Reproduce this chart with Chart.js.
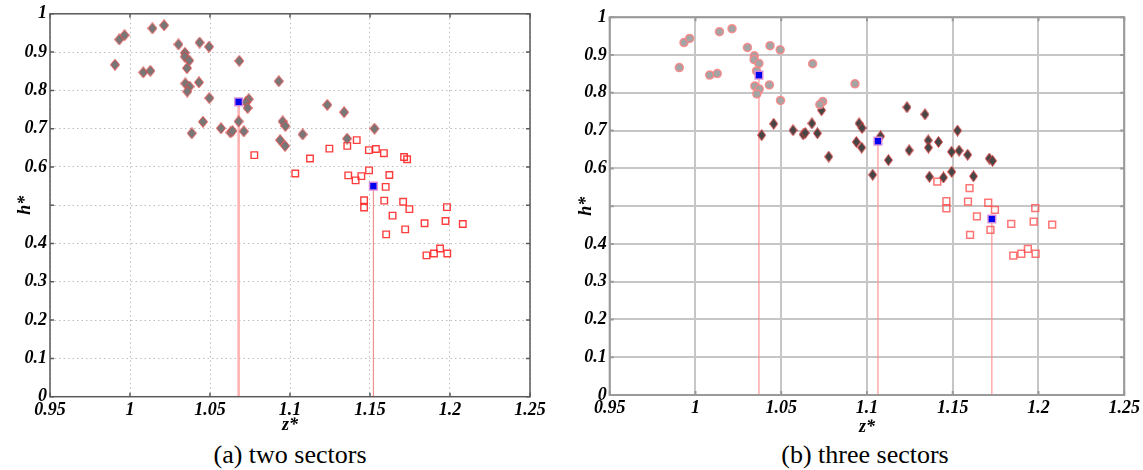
<!DOCTYPE html>
<html>
<head>
<meta charset="utf-8">
<script src="https://cdn.jsdelivr.net/npm/chart.js@4.4.1/dist/chart.umd.min.js"></script>
<style>
  html, body { margin: 0; padding: 0; background: #fff; }
  #page { position: relative; width: 1143px; height: 470px; overflow: hidden; }
  canvas { position: absolute; top: 0; }
  #chartA { left: 0; }
  #chartB { left: 571px; }
  .caption {
    position: absolute; top: 440px; width: 240px; height: 30px; line-height: 30px;
    font-family: "Liberation Serif", "Times New Roman", serif; font-size: 26px;
    text-align: center; color: #000;
  }
</style>
</head>
<body>
<div id="page">
  <canvas id="chartA" width="571" height="440"></canvas>
  <canvas id="chartB" width="572" height="440"></canvas>
  <div class="caption" style="left:170px">(a) two sectors</div>
  <div class="caption" style="left:745px">(b) three sectors</div>
</div>
<script>
// ---- data (same 73 operating points in both panels) ----
const zStar = [
  0.9906, 0.9933, 0.9966, 1.0083, 1.0127, 1.0140, 1.0213, 1.0303, 1.0343, 1.0342,
  1.0370, 1.0356, 1.0435, 1.0494, 1.0346, 1.0372, 1.0358, 1.0431, 1.0496, 1.0683,
  1.0742, 1.0725, 1.0930,
  1.0456, 1.0386, 1.0569, 1.0628, 1.0640, 1.0679, 1.0711, 1.0735, 1.1233, 1.1338,
  1.0954, 1.0971, 1.1079, 1.1528, 1.0938, 1.0969, 1.1357,
  1.0777, 1.1033, 1.1125, 1.1246, 1.1358, 1.1417, 1.1493, 1.1537, 1.1587, 1.1713,
  1.1732, 1.1364, 1.1446, 1.1494, 1.1621,
  1.1410, 1.1598, 1.1463, 1.1463, 1.1589, 1.1707, 1.1746, 1.1981, 1.1641, 1.1841,
  1.1972, 1.2080, 1.1720, 1.1601, 1.1853, 1.1900, 1.1938, 1.1983
];
const hStar = [
  0.867, 0.933, 0.944, 0.847, 0.851, 0.962, 0.970, 0.920, 0.898, 0.888,
  0.878, 0.858, 0.925, 0.914, 0.818, 0.810, 0.797, 0.821, 0.780, 0.877,
  0.777, 0.769, 0.824,
  0.718, 0.688, 0.701, 0.690, 0.694, 0.719, 0.693, 0.754, 0.762, 0.743,
  0.719, 0.707, 0.685, 0.700, 0.670, 0.655, 0.674,
  0.631, 0.583, 0.622, 0.648, 0.655, 0.670, 0.644, 0.647, 0.636, 0.626,
  0.620, 0.578, 0.576, 0.591, 0.579,
  0.565, 0.548, 0.513, 0.494, 0.512, 0.509, 0.490, 0.495, 0.473, 0.453,
  0.459, 0.451, 0.437, 0.424, 0.369, 0.374, 0.387, 0.374
];
// sector of each point: two-sector split and three-sector split
const twoSector = [
  0,0,0,0,0,0,0,0,0,0, 0,0,0,0,0,0,0,0,0,0, 0,0,0,
  0,0,0,0,0,0,0,0,0,0, 0,0,0,0,0,0,0,
  1,1,1,1,1,1,1,1,1,1, 1,1,1,1,1,
  1,1,1,1,1,1,1,1,1,1, 1,1,1,1,1,1,1,1
];
const threeSector = [
  0,0,0,0,0,0,0,0,0,0, 0,0,0,0,0,0,0,0,0,0, 0,0,0,
  1,1,1,1,1,1,1,1,1,1, 1,1,1,1,1,1,1,
  1,1,1,1,1,1,1,1,1,1, 1,1,1,1,1,
  2,2,2,2,2,2,2,2,2,2, 2,2,2,2,2,2,2,2
];
const twoCentreZ = [1.0679, 1.1521];
const twoCentreH = [0.770, 0.550];
const threeCentreZ = [1.0370, 1.1064, 1.1728];
const threeCentreH = [0.847, 0.672, 0.466];
const zTicks = [0.95, 1, 1.05, 1.1, 1.15, 1.2, 1.25];
const hTicks = [0, 0.1, 0.2, 0.3, 0.4, 0.5, 0.6, 0.7, 0.8, 0.9, 1];

function pick(groups, g) {
  const out = [];
  zStar.forEach((z, i) => { if (groups[i] === g) out.push({ x: z, y: hStar[i] }); });
  return out;
}

function centres(cz, ch) {
  return cz.map((z, i) => ({ x: z, y: ch[i] }));
}

// vertical drop line from a centre to h* = 0
function drop(cz, ch, i, color, width) {
  return {
    data: [{ x: cz[i], y: 0 }, { x: cz[i], y: ch[i] }],
    showLine: true, pointRadius: 0, borderColor: color, borderWidth: width
  };
}

// taller-than-wide diamond marker
function diamond(w, h, fill, stroke) {
  const c = document.createElement("canvas");
  c.width = w; c.height = h;
  const g = c.getContext("2d");
  g.beginPath();
  g.moveTo(w / 2, 0.5); g.lineTo(w - 0.5, h / 2); g.lineTo(w / 2, h - 0.5); g.lineTo(0.5, h / 2);
  g.closePath();
  g.fillStyle = fill; g.fill();
  g.strokeStyle = stroke; g.lineWidth = 1; g.stroke();
  return c;
}

// box round the plot with small inward ticks (matlab look)
const frame = {
  id: "frame",
  afterDraw(chart, args, o) {
    const { ctx, chartArea: a, scales: { x, y } } = chart;
    ctx.save();
    ctx.strokeStyle = o.color;
    ctx.lineWidth = o.width;
    ctx.strokeRect(a.left, a.top, a.right - a.left, a.bottom - a.top);
    ctx.beginPath();
    x.ticks.forEach(t => {
      const p = x.getPixelForValue(t.value);
      ctx.moveTo(p, a.top); ctx.lineTo(p, a.top + o.tick);
      ctx.moveTo(p, a.bottom); ctx.lineTo(p, a.bottom - o.tick);
    });
    y.ticks.forEach(t => {
      const p = y.getPixelForValue(t.value);
      ctx.moveTo(a.left, p); ctx.lineTo(a.left + o.tick, p);
      ctx.moveTo(a.right, p); ctx.lineTo(a.right - o.tick, p);
    });
    ctx.stroke();
    ctx.restore();
  }
};

const tickFont = { family: "'Liberation Serif', 'Times New Roman', serif", size: 18, weight: "bold", style: "italic" };

function sectorChart(id, datasets, look) {
  return new Chart(document.getElementById(id), {
    type: "scatter",
    data: { datasets },
    plugins: [frame],
    options: {
      responsive: false,
      animation: false,
      events: [],
      layout: { padding: look.pad },
      plugins: { legend: { display: false }, tooltip: { enabled: false }, frame: look.frame },
      scales: {
        x: {
          type: "linear", min: 0.95, max: 1.25,
          afterBuildTicks: s => { s.ticks = zTicks.map(v => ({ value: v })); },
          afterFit: s => { s.height = look.xHeight; },
          grid: { color: look.grid, lineWidth: look.gridWidth, drawTicks: false },
          border: { display: false, dash: look.dash },
          ticks: {
            font: tickFont, color: "#000", padding: 3, autoSkip: false, maxRotation: 0,
            callback: v => String(+v.toFixed(2))
          },
          title: { display: true, text: "z*", font: tickFont, color: "#000", padding: { top: 0, bottom: look.zPad } }
        },
        y: {
          type: "linear", min: 0, max: 1,
          afterBuildTicks: s => { s.ticks = hTicks.map(v => ({ value: v })); },
          afterFit: s => { s.width = look.yWidth; },
          grid: { color: look.grid, lineWidth: look.gridWidth, drawTicks: false },
          border: { display: false, dash: look.dash },
          ticks: {
            font: tickFont, color: "#000", padding: 3, autoSkip: false,
            // the 0.5 label sits under the h* title in the original
            callback: v => (Math.round(v * 10) === 5 ? "" : String(+v.toFixed(1)))
          },
          title: { display: true, text: "h*", font: tickFont, color: "#000", padding: { top: look.hPad, bottom: 0 } }
        }
      }
    }
  });
}

// ===== (a) two sectors =====
const blue = { pointStyle: "rect", pointRadius: 5.4, backgroundColor: "#0000f0", borderColor: "rgba(215,140,215,0.95)", borderWidth: 1.5 };
sectorChart("chartA", [
  Object.assign({ data: centres(twoCentreZ, twoCentreH) }, blue),
  {
    data: pick(twoSector, 0), pointStyle: diamond(10, 12, "#777777", "rgba(240,70,70,0.9)"),
    pointRadius: 5
  },
  {
    data: pick(twoSector, 1), pointStyle: "rect", pointRadius: 4.6,
    backgroundColor: "rgba(255,255,255,0)", borderColor: "rgba(255,40,40,0.9)", borderWidth: 1.4
  },
  drop(twoCentreZ, twoCentreH, 0, "rgba(255,170,170,0.9)", 2.6),
  drop(twoCentreZ, twoCentreH, 1, "rgba(240,110,110,0.9)", 1)
], {
  pad: { left: 0, top: 13.3, right: 41, bottom: 0 },
  yWidth: 50, xHeight: 43.3, hPad: 15, zPad: 4,
  grid: "#bdbdbd", gridWidth: 1, dash: [1.5, 3],
  frame: { color: "#5a5a5a", width: 1.5, tick: 4 }
});

// ===== (b) three sectors =====
sectorChart("chartB", [
  Object.assign({ data: centres(threeCentreZ, threeCentreH) }, blue),
  {
    data: pick(threeSector, 0), pointStyle: "circle", pointRadius: 4,
    backgroundColor: "#a4a4a4", borderColor: "rgba(255,130,130,0.85)", borderWidth: 1.5
  },
  {
    data: pick(threeSector, 1), pointStyle: diamond(9, 12, "#464646", "rgba(225,60,60,0.9)"),
    pointRadius: 5
  },
  {
    data: pick(threeSector, 2), pointStyle: "rect", pointRadius: 4.8,
    backgroundColor: "rgba(255,255,255,0)", borderColor: "rgba(255,80,80,0.8)", borderWidth: 1.5
  },
  drop(threeCentreZ, threeCentreH, 0, "rgba(255,140,140,0.85)", 1.3),
  drop(threeCentreZ, threeCentreH, 1, "rgba(255,140,140,0.85)", 1.3),
  drop(threeCentreZ, threeCentreH, 2, "rgba(255,140,140,0.85)", 1.3)
], {
  pad: { left: 0, top: 17.3, right: 18, bottom: 0 },
  yWidth: 38.7, xHeight: 45, hPad: 5, zPad: 2,
  grid: "#c6c6c6", gridWidth: 2, dash: [],
  frame: { color: "#9a9a9a", width: 2, tick: 4 }
});
</script>
</body>
</html>
